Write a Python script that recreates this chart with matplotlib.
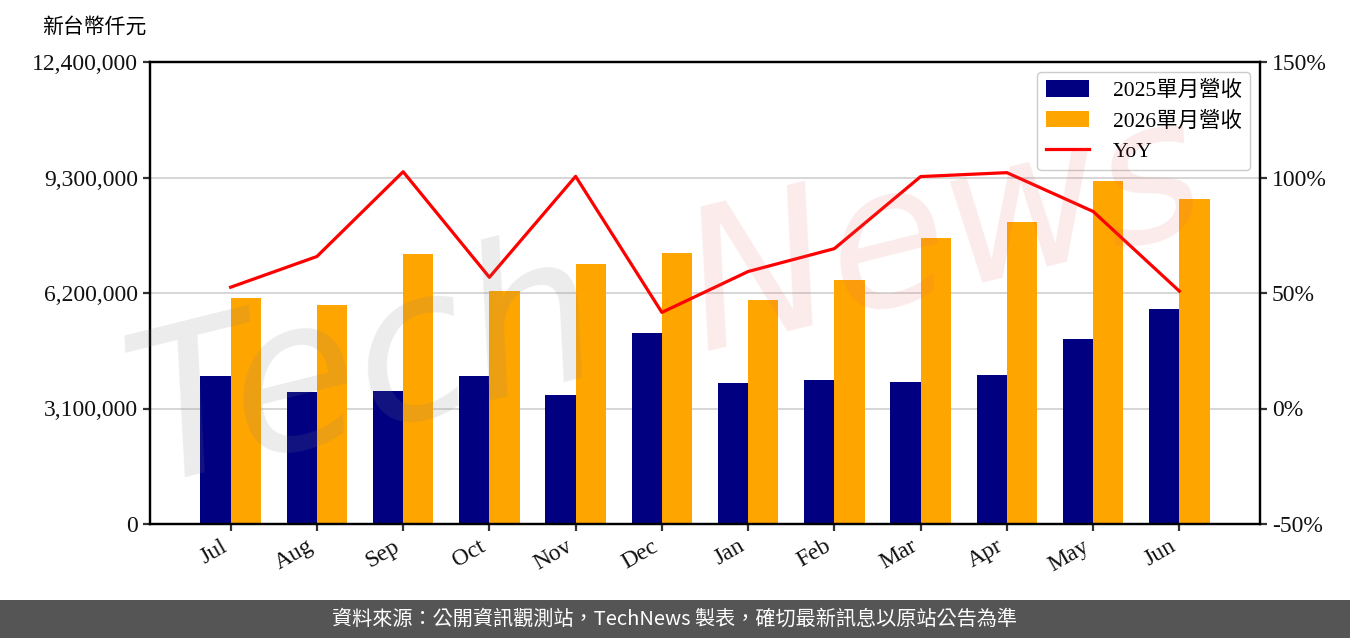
"""
Monthly revenue, 2025 vs 2026, with YoY line on a second axis.
"""
import matplotlib
matplotlib.use('Agg')
import matplotlib.pyplot as plt
import numpy as np
from matplotlib.patches import Rectangle
from matplotlib.ticker import FuncFormatter

# data (NT$ thousand, YoY in %)
months = ['Jul', 'Aug', 'Sep', 'Oct', 'Nov', 'Dec',
          'Jan', 'Feb', 'Mar', 'Apr', 'May', 'Jun']
rev_2025 = [3970000, 3540000, 3570000, 3970000, 3460000, 5130000,
            3780000, 3870000, 3810000, 4000000, 4970000, 5770000]
rev_2026 = [6070000, 5880000, 7250000, 6250000, 6980000, 7270000,
            6010000, 6550000, 7680000, 8110000, 9210000, 8720000]
yoy = [52.5, 65.8, 102.5, 56.8, 100.5, 41.6,
       59.3, 69.2, 100.4, 102.1, 85.3, 50.8]

left_ticks = [0, 3100000, 6200000, 9300000, 12400000]
right_ticks = [-50, 0, 50, 100, 150]

LATIN = 'Liberation Serif'
CJK = 'Noto Sans CJK TC'
plt.rcParams['font.family'] = [LATIN, CJK, 'DejaVu Sans']


def make_chart(save_path='out.png'):
    fig = plt.figure(figsize=(13.5, 6.38), dpi=100)
    ax = fig.add_axes([150 / 1350, 1 - 524 / 638, 1110 / 1350, 462 / 638])
    ax2 = ax.twinx()

    x = np.arange(len(months))
    w = 0.35
    ax.bar(x - w / 2, rev_2025, w, color='#000080', label='2025單月營收', zorder=2)
    ax.bar(x + w / 2, rev_2026, w, color='#ffa500', label='2026單月營收', zorder=2)
    ax2.plot(x, yoy, color='red', linewidth=2.3, label='YoY')

    ax.set_ylim(0, 12400000)
    ax.set_yticks(left_ticks)
    ax.yaxis.set_major_formatter(FuncFormatter(lambda v, p: f'{int(v):,}'))
    ax2.set_ylim(-50, 150)
    ax2.set_yticks(right_ticks)
    ax2.yaxis.set_major_formatter(FuncFormatter(lambda v, p: f'{v:.0f}%'))

    ax.set_xticks(x)
    ax.set_xticklabels(months, rotation=30, ha='right')
    ax.grid(axis='y', color='#d3d3d3', linewidth=1.3, zorder=0)
    ax.set_axisbelow(True)

    for a in (ax, ax2):
        for s in a.spines.values():
            s.set_linewidth(1.6)
            s.set_color('black')
        a.tick_params(labelsize=17, width=1.6, length=5, color='#333333',
                      labelcolor='#111111')

    # combined legend
    h1, l1 = ax.get_legend_handles_labels()
    h2, l2 = ax2.get_legend_handles_labels()
    ax2.legend(h1 + h2, l1 + l2, loc='upper right', fontsize=15.5,
               handlelength=2.0, handleheight=0.8, handletextpad=1.1,
               borderaxespad=0.45, labelspacing=0.45,
               framealpha=1, edgecolor='#cccccc')

    fig.text(94 / 1350, 1 - 27 / 638, '新台幣仟元', ha='center', va='center',
             fontsize=15, family=[CJK])

    # watermark (approximation of the handwritten logo)
    fig.text(365 / 1350, 1 - 370 / 638, 'Tech', fontsize=150,
             style='italic', family=['DejaVu Sans'], color='#808080', alpha=0.15,
             rotation=14, ha='center', va='center', zorder=10)
    fig.text(945 / 1350, 1 - 235 / 638, 'News', fontsize=140,
             style='italic', family=['DejaVu Sans'], color='#e06060', alpha=0.13,
             rotation=14, ha='center', va='center', zorder=10)

    # footer band
    fig.patches.append(Rectangle((0, 0), 1, 38 / 638, transform=fig.transFigure,
                                 facecolor='#555555', edgecolor='none', zorder=0))
    fig.text(0.5, 19 / 638, '資料來源：公開資訊觀測站，TechNews 製表，確切最新訊息以原站公告為準',
             ha='center', va='center', color='white', fontsize=14.5,
             family=[CJK, 'DejaVu Sans'])

    fig.savefig(save_path, dpi=100)


if __name__ == "__main__":
    make_chart()
